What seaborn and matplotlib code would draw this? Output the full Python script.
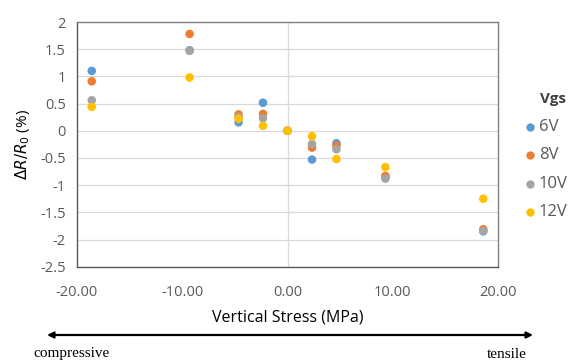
import numpy as np
import pandas as pd
import matplotlib
matplotlib.use("Agg")
import matplotlib.pyplot as plt
import seaborn as sns

stress = [-18.6, -9.3, -4.65, -2.33, 0.0, 2.33, 4.65, 9.3, 18.6]
series_names = ["6V", "8V", "10V", "12V"]
v6 = [1.10, 1.48, 0.155, 0.515, 0.0, -0.53, -0.23, -0.85, -1.85]
v8 = [0.91, 1.78, 0.30, 0.31, 0.0, -0.31, -0.275, -0.83, -1.81]
v10 = [0.56, 1.47, 0.25, 0.23, 0.0, -0.245, -0.34, -0.88, -1.84]
v12 = [0.44, 0.98, 0.22, 0.09, 0.0, -0.10, -0.52, -0.67, -1.25]
colors = ["#5B9BD5", "#ED7D31", "#A5A5A5", "#FFC000"]
x_ticks = [-20, -10, 0, 10, 20]
y_ticks = [2, 1.5, 1, 0.5, 0, -0.5, -1, -1.5, -2, -2.5]

rows = []
for name, vals in zip(series_names, [v6, v8, v10, v12]):
    for x, y in zip(stress, vals):
        rows.append({"stress": x, "dR": y, "Vgs": name})
df = pd.DataFrame(rows)

sns.set_theme(style="white")
plt.rcParams["font.family"] = ["Open Sans", "DejaVu Sans"]

fig = plt.figure(figsize=(5.71, 3.61), dpi=100)
ax = fig.add_axes([77/571, 1-266.7/361, (498-77)/571, (266.7-22)/361])

for yv in y_ticks:
    ax.axhline(yv, color="#D9D9D9", lw=0.9, zorder=0)
ax.axvline(0, color="#D9D9D9", lw=0.9, zorder=0)

sns.scatterplot(data=df, x="stress", y="dR", hue="Vgs", hue_order=series_names,
                palette=colors, s=38, edgecolor="none", linewidth=0, ax=ax,
                legend=False, zorder=3)

ax.set_xlim(-20, 20)
ax.set_ylim(-2.5, 2)
ax.set_xticks(x_ticks)
ax.set_xticklabels([f"{v:.2f}" for v in x_ticks])
ax.set_yticks(y_ticks)
ax.set_yticklabels([f"{v:g}" for v in y_ticks])
ax.tick_params(axis="x", direction="in", length=4, width=1, color="#595959",
               labelsize=10.5, labelcolor="#595959", pad=13)
ax.tick_params(axis="y", length=0, labelsize=10.5, labelcolor="#595959", pad=8)
for sp in ax.spines.values():
    sp.set_color("#808080")
    sp.set_linewidth(1)
ax.spines["left"].set_color("#595959")
ax.spines["bottom"].set_color("#595959")

ax.set_xlabel("Vertical Stress (MPa)", fontsize=11.5, color="#000000", labelpad=7)
ax.set_ylabel(r"$\Delta R/R_0$ (%)", fontsize=11, color="#000000", labelpad=6)

# legend
fig.text(553/571, 1-99/361, "Vgs", fontsize=11, fontweight="bold",
         ha="center", va="center", color="#404040")
for i, (name, c) in enumerate(zip(series_names, colors)):
    yy = 1 - (127 + 28.3*i)/361
    fig.lines.append(plt.Line2D([530/571], [yy], marker="o", ms=6, color=c,
                                mec="none", transform=fig.transFigure, ls="none"))
    fig.text(539/571, yy, name, fontsize=12, ha="left", va="center", color="#595959")

# arrow
ax_arrow = fig.add_axes([0, 0, 1, 1], facecolor="none")
ax_arrow.set_xlim(0, 571)
ax_arrow.set_ylim(361, 0)
ax_arrow.axis("off")
ax_arrow.annotate("", xy=(47, 335), xytext=(533, 335),
                  arrowprops=dict(arrowstyle="<|-|>", color="black", lw=1.6,
                                  mutation_scale=9, shrinkA=0, shrinkB=0))
ax_arrow.text(33, 354, "compressive", fontsize=11, family="Liberation Serif",
              ha="left", va="center", color="black")
ax_arrow.text(527, 354, "tensile", fontsize=11, family="Liberation Serif",
              ha="right", va="center", color="black")

fig.savefig("out.png", dpi=100)
